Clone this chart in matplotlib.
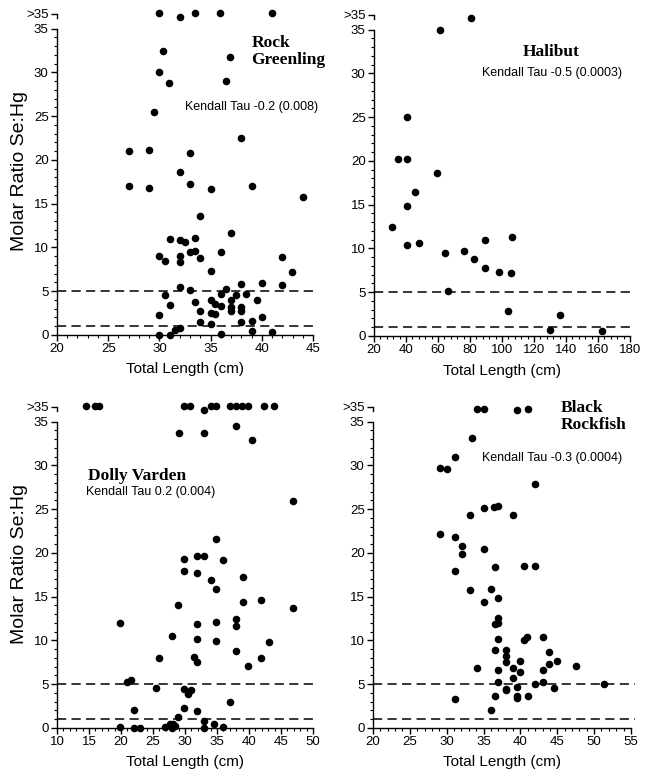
import matplotlib
matplotlib.use("Agg")
import matplotlib.pyplot as plt
from matplotlib.ticker import MultipleLocator, FixedLocator

plt.rcParams['font.family'] = ['Liberation Sans', 'DejaVu Sans']

# value used to plot the ">35" points
TOP = 36.7

# Rock Greenling
rock_x = [30.0, 32.0, 33.5, 35.9, 41.0, 30.4, 36.9, 30.0, 30.9, 36.5, 29.5, 38.0, 27.0, 29.0, 33.0,
          32.0, 27.0, 29.0, 33.0, 35.0, 39.0, 44.0, 34.0, 37.0, 31.0, 32.0, 32.5, 33.5, 30.0, 30.5,
          32.0, 32.0, 33.0, 33.5, 34.0, 36.0, 35.0, 42.0, 42.9, 42.0, 40.0, 38.0, 32.0, 33.0, 36.5,
          36.0, 37.0, 37.5, 38.5, 39.5, 30.5, 33.5, 35.0, 35.4, 36.0, 37.0, 37.0, 38.0, 38.0, 38.0,
          31.0, 34.0, 35.0, 35.4, 30.0, 34.0, 35.0, 39.0, 40.0, 32.0, 31.5, 30.0, 31.0, 36.0, 39.0,
          41.0]
rock_y = [36.8, 36.3, 36.8, 36.8, 36.8, 32.5, 31.8, 30.0, 28.8, 29.0, 25.5, 22.5, 21.0, 21.1, 20.8,
          18.6, 17.0, 16.8, 17.2, 16.7, 17.0, 15.8, 13.6, 11.7, 11.0, 10.8, 10.6, 11.1, 9.0, 8.5,
          9.0, 8.3, 9.5, 9.6, 8.8, 9.5, 7.3, 8.9, 7.2, 5.7, 5.9, 5.8, 5.5, 5.1, 5.3,
          4.7, 4.0, 4.6, 4.7, 4.0, 4.6, 3.8, 4.0, 3.5, 3.3, 3.2, 2.7, 3.2, 2.7, 1.5,
          3.4, 2.7, 2.5, 2.4, 2.3, 1.5, 1.3, 1.6, 2.1, 0.8, 0.6, 0.0, 0.0, 0.1, 0.4,
          0.3]

# Halibut
hali_x = [80.3, 61.5, 40.3, 35.2, 40.3, 59.5, 45.3, 40.3, 31.1, 40.3, 48.2, 64.5, 66.3, 76.2, 82.2,
          89.1, 89.1, 97.9, 105.4, 106.2, 103.5, 130.0, 136.3, 162.6]
hali_y = [36.3, 35.0, 25.0, 20.2, 20.2, 18.6, 16.5, 14.8, 12.5, 10.4, 10.6, 9.5, 5.1, 9.7, 8.8,
          11.0, 7.8, 7.3, 7.2, 11.3, 2.8, 0.7, 2.4, 0.6]

# Dolly Varden
dolly_x = [14.5, 16.0, 16.6, 29.9, 30.8, 32.9, 34.0, 34.9, 37.0, 38.0, 38.9, 39.9, 42.4, 43.9,
           29.0, 32.9, 38.0, 40.5, 46.9, 34.9, 29.9, 31.9, 32.9, 35.9, 29.9, 31.9, 34.0, 39.0, 34.9,
           28.9, 39.0, 41.9, 46.9, 38.0, 38.0, 19.9, 31.9, 34.9, 27.9, 31.9, 34.9, 43.1, 38.0, 25.9,
           31.4, 31.9, 41.9, 39.9, 20.9, 21.5, 25.4, 29.9, 30.4, 30.9, 37.0, 22.0, 29.9, 31.9, 28.9,
           19.9, 22.0, 22.9, 26.9, 27.7, 28.2, 28.5, 28.0, 32.9, 32.9, 34.5, 35.9]
dolly_y = [36.8, 36.8, 36.8, 36.8, 36.8, 36.3, 36.8, 36.8, 36.8, 36.8, 36.8, 36.8, 36.8, 36.8,
           33.7, 33.7, 34.5, 32.9, 25.9, 21.6, 19.3, 19.6, 19.7, 19.2, 17.9, 17.7, 16.9, 17.2, 15.9,
           14.0, 14.4, 14.6, 13.7, 12.5, 11.7, 12.0, 11.9, 12.1, 10.5, 10.2, 9.9, 9.8, 8.8, 8.0,
           8.1, 7.5, 8.0, 7.1, 5.2, 5.5, 4.6, 4.4, 3.9, 4.3, 3.0, 2.1, 2.3, 1.9, 1.2,
           0.1, 0.0, 0.0, 0.1, 0.5, 0.5, 0.2, 0.0, 0.8, 0.0, 0.5, 0.1]

# Black Rockfish
black_x = [34.05, 35.05, 39.5, 41.0, 33.5, 31.1, 29.1, 30.1, 42.0, 35.05, 36.4, 37.0, 33.1, 39.0,
           29.1, 31.1, 32.1, 32.1, 35.05, 31.1, 36.5, 40.5, 42.0,
           33.1, 36.05, 37.0, 35.05, 37.0, 36.5, 37.0, 37.0, 40.5, 40.9, 43.0, 36.5, 38.0, 38.0,
           38.0, 40.0, 43.9, 43.9, 45.0, 47.5, 34.05, 39.0, 40.0, 37.0, 43.0, 39.0, 37.0, 43.0,
           42.0, 39.5, 51.4, 38.0, 38.0, 44.5, 36.5, 39.5, 39.5, 41.0, 31.1, 36.05]
black_y = [36.4, 36.4, 36.3, 36.4, 33.1, 31.0, 29.7, 29.6, 27.9, 25.1, 25.3, 25.4, 24.3, 24.3,
           22.2, 21.8, 20.8, 19.9, 20.5, 17.9, 18.4, 18.5, 18.5,
           15.8, 15.9, 14.9, 14.4, 12.6, 11.9, 12.0, 10.2, 10.0, 10.4, 10.4, 8.9, 8.9, 8.2,
           7.5, 7.7, 8.7, 7.3, 7.6, 7.1, 6.8, 6.9, 6.4, 6.6, 6.6, 5.7, 5.2, 5.2,
           5.0, 4.7, 5.0, 4.5, 4.3, 4.6, 3.7, 3.7, 3.4, 3.6, 3.3, 2.1]

y_major = [0, 5, 10, 15, 20, 25, 30, 35]
y_labels = ['0', '5', '10', '15', '20', '25', '30', '35', '>35']
ref_lines = [5, 1]

panels = [
    # x, y, xlim, major, minor, axes rect, title, title pos, title align, tau text, tau pos, tau align
    (rock_x, rock_y, (20, 45), 5, 1, [0.0878, 0.5700, 0.3945, 0.4156],
     'Rock\nGreenling', (39.0, 32.4), 'left', 'Kendall Tau -0.2 (0.008)', (32.5, 26.1), 'left'),
    (hali_x, hali_y, (20, 180), 20, 4, [0.5763, 0.5687, 0.3945, 0.4156],
     'Halibut', (131, 32.4), 'center', 'Kendall Tau -0.5 (0.0003)', (131, 30.0), 'center'),
    (dolly_x, dolly_y, (10, 50), 5, 1, [0.0878, 0.0655, 0.3945, 0.4156],
     'Dolly Varden', (14.8, 28.8), 'left', 'Kendall Tau 0.2 (0.004)', (14.5, 27.0), 'left'),
    (black_x, black_y, (20, 55), 5, 1, [0.5747, 0.0655, 0.3975, 0.4156],
     'Black\nRockfish', (45.5, 35.6), 'left', 'Kendall Tau -0.3 (0.0004)', (34.75, 30.9), 'left'),
]

fig = plt.figure(figsize=(6.49, 7.79), dpi=100)

for i, (xs, ys, xlim, major, minor, rect, title, tpos, tha, tau, taupos, tauha) in enumerate(panels):
    ax = fig.add_axes(rect)
    ax.scatter(xs, ys, s=30, color='black', zorder=3, clip_on=False, linewidths=0)
    for yl in ref_lines:
        ax.plot([xlim[0], xlim[1] + (xlim[1] - xlim[0]) * 0.015], [yl, yl], color='black',
                lw=1.1, linestyle=(0, (6, 3.5)), clip_on=False, zorder=2)

    ax.set_xlim(xlim)
    ax.set_ylim(0, 37)
    for s in ['top', 'right']:
        ax.spines[s].set_visible(False)
    ax.spines['left'].set_bounds(0, 35)
    ax.spines['bottom'].set_bounds(xlim[0], xlim[1])
    ax.spines['left'].set_linewidth(1.0)
    ax.spines['bottom'].set_linewidth(1.0)

    ax.xaxis.set_major_locator(MultipleLocator(major))
    ax.xaxis.set_minor_locator(MultipleLocator(minor))
    ax.yaxis.set_major_locator(FixedLocator(y_major + [TOP]))
    ax.set_yticklabels(y_labels)
    ax.yaxis.set_minor_locator(FixedLocator([v for v in range(0, 36) if v % 5 != 0]))
    ax.tick_params(which='major', direction='out', length=4, width=1.0, labelsize=9.5, pad=2)
    ax.tick_params(which='minor', direction='out', length=2.2, width=0.8)
    # short stub under the ">35" tick
    ax.plot([xlim[0], xlim[0]], [TOP - 0.5, TOP], color='black', lw=1.0, clip_on=False)

    ax.set_xlabel('Total Length (cm)', fontsize=11)
    ax.xaxis.set_label_coords(0.5, -0.085)
    if i % 2 == 0:
        ax.set_ylabel('Molar Ratio Se:Hg', fontsize=14)
        ax.yaxis.set_label_coords(-0.115, 0.505)

    ax.text(tpos[0], tpos[1], title, ha=tha, va='center', fontsize=12.5, fontweight='bold',
            family=['Liberation Serif', 'DejaVu Serif'], linespacing=1.05)
    ax.text(taupos[0], taupos[1], tau, ha=tauha, va='center', fontsize=9)

plt.savefig('out.png', dpi=100)
